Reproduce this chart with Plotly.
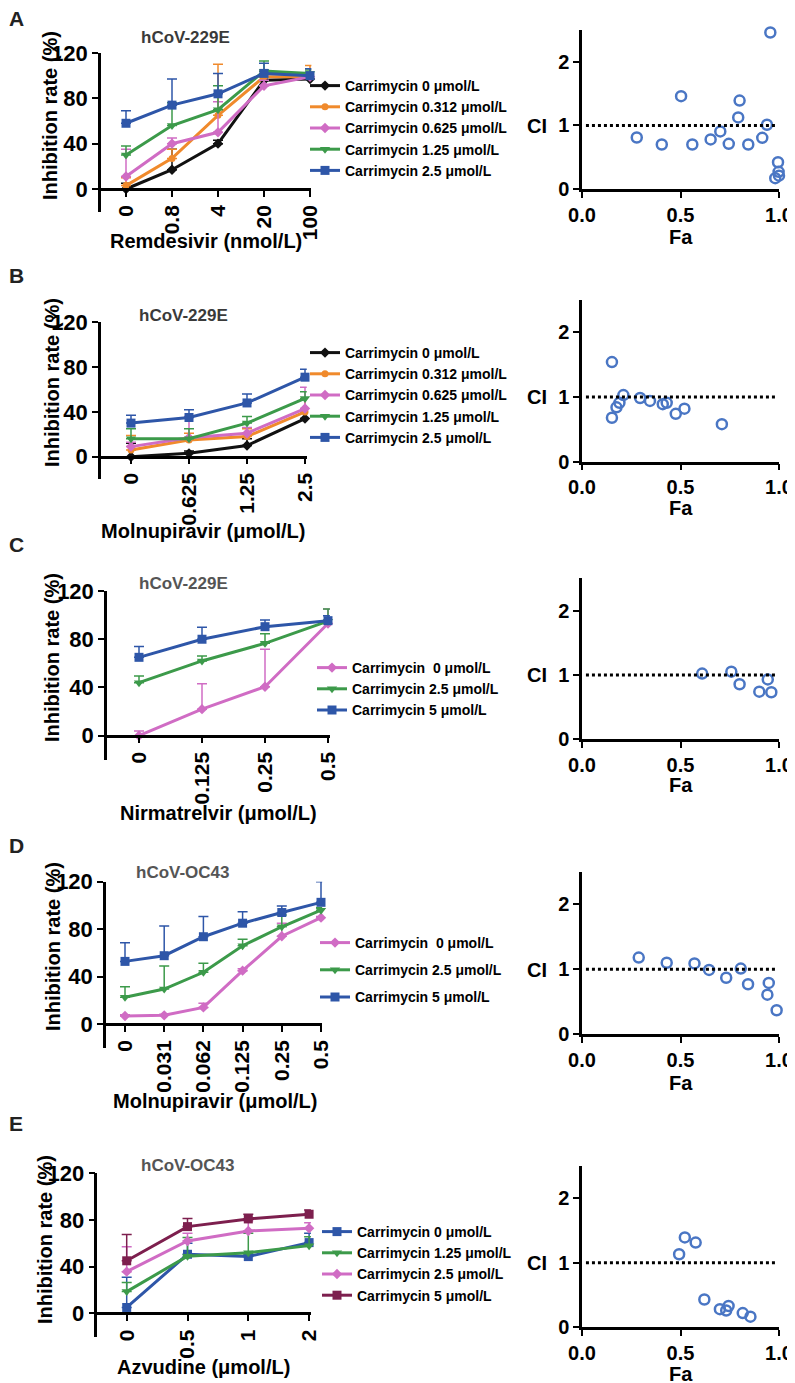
import plotly.graph_objects as go

# the page adds an 8px body margin, so every reference pixel position is
# shifted back by OFF when it is turned into paper coordinates
OFF = 8
W, H = 795, 1383
FONT = "Liberation Sans, Arial, Helvetica, sans-serif"

BLACK = "#111111"
ORANGE = "#F08A2C"
PINK = "#D06CC4"
GREEN = "#3C9A4A"
BLUE = "#2E56A8"
MAROON = "#7D1F4E"
CI_BLUE = "#4A76C4"

# ---- A: Remdesivir + carrimycin (hCoV-229E)
a_dose = ["0", "0.8", "4", "20", "100"]
a_names = ["Carrimycin 0 μmol/L", "Carrimycin 0.312 μmol/L", "Carrimycin 0.625 μmol/L",
           "Carrimycin 1.25 μmol/L", "Carrimycin 2.5 μmol/L"]
a_mean = [[0, 17, 40, 96, 97],
          [3, 27, 65, 99, 99],
          [11, 40, 50, 91, 99],
          [30, 56, 70, 104, 102],
          [58, 74, 84, 102, 100]]
a_sd = [[5, 18, 3, 3, 2],
        [7, 8, 45, 5, 10],
        [24, 5, 27, 5, 3],
        [8, 20, 21, 9, 3],
        [11, 23, 18, 9, 6]]
a_fa = [0.278, 0.405, 0.503, 0.56, 0.653, 0.702, 0.745, 0.793, 0.80, 0.844,
        0.915, 0.939, 0.956, 0.995, 0.998, 1.0, 0.981]
a_ci = [0.81, 0.70, 1.46, 0.70, 0.78, 0.905, 0.71, 1.125, 1.39, 0.70,
        0.805, 1.01, 2.46, 0.42, 0.27, 0.21, 0.17]

# ---- B: Molnupiravir + carrimycin (hCoV-229E)
b_dose = ["0", "0.625", "1.25", "2.5"]
b_names = a_names
b_mean = [[0, 3, 10, 34],
          [6, 15, 18, 40],
          [9, 17, 21, 43],
          [16, 16, 30, 52],
          [30, 35, 48, 71]]
b_sd = [[12, 2, 6, 6],
        [13, 6, 7, 12],
        [4, 19, 5, 19],
        [9, 9, 6, 6],
        [7, 7, 8, 7]]
b_fa = [0.152, 0.152, 0.175, 0.19, 0.21, 0.295, 0.345, 0.41, 0.43, 0.476, 0.52, 0.71]
b_ci = [1.54, 0.68, 0.84, 0.91, 1.03, 0.985, 0.94, 0.89, 0.91, 0.74, 0.82, 0.58]

# ---- C: Nirmatrelvir + carrimycin (hCoV-229E)
c_dose = ["0", "0.125", "0.25", "0.5"]
c_names = ["Carrimycin\u00a0 0 μmol/L", "Carrimycin 2.5 μmol/L", "Carrimycin 5 μmol/L"]
c_mean = [[0, 22, 40.6, 93],
          [44, 62, 76.6, 95],
          [65, 80, 90.4, 95.4]]
c_sd = [[4, 21, 31, 12],
        [5.5, 4, 8, 10],
        [9, 10, 5.5, 4]]
c_fa = [0.61, 0.758, 0.80, 0.90, 0.943, 0.961]
c_ci = [1.02, 1.05, 0.855, 0.74, 0.93, 0.73]

# ---- D: Molnupiravir + carrimycin (hCoV-OC43)
d_dose = ["0", "0.031", "0.062", "0.125", "0.25", "0.5"]
d_names = c_names
d_mean = [[6.7, 7.3, 14, 45, 74, 89.7],
          [22.5, 29.5, 43.6, 66, 82, 96],
          [52.8, 57.6, 73.6, 85, 94, 102.6]]
d_sd = [[1, 1, 3.4, 1.5, 11, 1],
        [9, 19.5, 7.6, 5.4, 10, 2],
        [15.8, 25, 17, 9.7, 5.6, 17.4]]
d_fa = [0.288, 0.43, 0.571, 0.645, 0.732, 0.806, 0.843, 0.948, 0.941, 0.988]
d_ci = [1.18, 1.10, 1.09, 0.99, 0.87, 1.01, 0.77, 0.79, 0.61, 0.37]

# ---- E: Azvudine + carrimycin (hCoV-OC43)
e_dose = ["0", "0.5", "1", "2"]
e_names = ["Carrimycin 0 μmol/L", "Carrimycin 1.25 μmol/L", "Carrimycin 2.5 μmol/L",
           "Carrimycin 5 μmol/L"]
e_mean = [[5, 50.6, 48.6, 60.6],
          [18.6, 49, 52, 58],
          [35.7, 62, 70.6, 72.9],
          [45, 74.3, 80.9, 84.9]]
e_sd = [[26, 9.4, 2, 8],
        [7.7, 16, 16.6, 7.7],
        [21.4, 6.6, 8.8, 4.8],
        [22.6, 7, 4, 3.7]]
e_fa = [0.493, 0.522, 0.577, 0.621, 0.70, 0.732, 0.744, 0.816, 0.855]
e_ci = [1.13, 1.39, 1.31, 0.43, 0.28, 0.26, 0.33, 0.22, 0.165]

ci_ref = 1.0

# styles
five_col = [BLACK, ORANGE, PINK, GREEN, BLUE]
five_sym = ["diamond", "circle", "diamond", "triangle-down", "square"]
three_col = [PINK, GREEN, BLUE]
three_sym = ["diamond", "triangle-down", "square"]
e_col = [BLUE, GREEN, PINK, MAROON]
e_sym = ["square", "triangle-down", "diamond", "square"]
sym_size = {"diamond": 8, "circle": 7, "triangle-down": 9, "square": 9}

# layout geometry in reference pixels
panels = [
    dict(letter="A", virus="hCoV-229E", vcol="#3a3a3a", xtitle="Remdesivir (nmol/L)",
         dose=a_dose, names=a_names, mean=a_mean, sd=a_sd, col=five_col, sym=five_sym,
         fa=a_fa, ci=a_ci,
         ax=101, cat0=126, step=46, top=53, zero=189,
         rtop=30, rzero=189, leg=(305, 70), gap=0,
         let_y=18, vt=(185, 38), xt=(206, 241), yt=(50, 116), ci_y=126, fa_y=237),
    dict(letter="B", virus="hCoV-229E", vcol="#3a3a3a", xtitle="Molnupiravir (μmol/L)",
         dose=b_dose, names=b_names, mean=b_mean, sd=b_sd, col=five_col, sym=five_sym,
         fa=b_fa, ci=b_ci,
         ax=101, cat0=131, step=58, top=322.3, zero=456.7,
         rtop=300, rzero=461.7, leg=(305, 337), gap=0,
         let_y=275, vt=(183, 315), xt=(203, 531), yt=(52, 383), ci_y=397, fa_y=508),
    dict(letter="C", virus="hCoV-229E", vcol="#555555", xtitle="Nirmatrelvir (μmol/L)",
         dose=c_dose, names=c_names, mean=c_mean, sd=c_sd, col=three_col, sym=three_sym,
         fa=c_fa, ci=c_ci,
         ax=107, cat0=139, step=63, top=591, zero=735.7,
         rtop=578.3, rzero=739.3, leg=(312, 652), gap=0,
         let_y=544, vt=(183, 583), xt=(218, 813), yt=(52, 658), ci_y=675, fa_y=785),
    dict(letter="D", virus="hCoV-OC43", vcol="#555555", xtitle="Molnupiravir (μmol/L)",
         dose=d_dose, names=d_names, mean=d_mean, sd=d_sd, col=three_col, sym=three_sym,
         fa=d_fa, ci=d_ci,
         ax=106, cat0=125, step=39.2, top=881.7, zero=1024,
         rtop=871.7, rzero=1034.3, leg=(315, 927), gap=6,
         let_y=845, vt=(183, 872), xt=(215, 1101), yt=(53, 947), ci_y=970, fa_y=1083),
    dict(letter="E", virus="hCoV-OC43", vcol="#555555", xtitle="Azvudine (μmol/L)",
         dose=e_dose, names=e_names, mean=e_mean, sd=e_sd, col=e_col, sym=e_sym,
         fa=e_fa, ci=e_ci,
         ax=97.3, cat0=126.7, step=60.8, top=1173.3, zero=1313.3,
         rtop=1165.7, rzero=1327.3, leg=(317, 1216), gap=0,
         let_y=1123, vt=(188, 1165), xt=(203, 1367), yt=(45, 1240), ci_y=1263, fa_y=1374),
]

RX0, RX1 = 582, 779  # right-hand CI plots


def pxx(p):
    return (p - OFF) / W


def pxy(p):
    return 1 - (p - OFF) / H


def sfx(k):
    return "" if k == 1 else str(k)


axis_common = dict(showline=True, linewidth=2.5, linecolor="black", ticks="outside",
                   ticklen=6, tickwidth=2, tickcolor="black", showgrid=False,
                   zeroline=False, fixedrange=True, automargin=False)

fig = go.Figure()
layout = {}
annotations = []


def note(text, x, y, size=20, color="black", angle=0):
    annotations.append(dict(text=text, x=pxx(x), y=pxy(y), xref="paper",
                            yref="paper", showarrow=False, xanchor="center",
                            yanchor="middle", textangle=angle,
                            font=dict(size=size, color=color)))


for i, p in enumerate(panels):
    ls, rs = sfx(i + 1), sfx(i + 6)
    leg = "legend" + sfx(i + 1)
    n = len(p["dose"])
    pad = 0.03

    for s, name in enumerate(p["names"]):
        c, sy = p["col"][s], p["sym"][s]
        fig.add_trace(go.Scatter(
            x=p["dose"], y=p["mean"][s], name=name, mode="lines+markers",
            line=dict(color=c, width=3),
            marker=dict(symbol=sy, size=sym_size[sy], color=c),
            error_y=dict(type="data", array=p["sd"][s], arrayminus=[0] * n,
                         symmetric=False, color=c, thickness=1.5, width=5),
            xaxis="x" + ls, yaxis="y" + ls, legend=leg, cliponaxis=False,
            legendgroup=(name + p["letter"]) if p["gap"] else None,
        ))

    fig.add_trace(go.Scatter(
        x=p["fa"], y=p["ci"], mode="markers", showlegend=False,
        marker=dict(symbol="circle-open", size=10, color=CI_BLUE,
                    line=dict(width=2.5, color=CI_BLUE)),
        xaxis="x" + rs, yaxis="y" + rs, cliponaxis=False,
    ))
    fig.add_shape(type="line", xref="x" + rs, yref="y" + rs, x0=0.02, x1=0.98,
                  y0=ci_ref, y1=ci_ref, line=dict(color="black", width=3, dash="dot"))

    # left dose-response axes (x axis sits at y = 0, y axis runs down to -20)
    bot = p["zero"] + (p["zero"] - p["top"]) / 6
    layout["xaxis" + ls] = dict(
        axis_common, type="category",
        domain=[pxx(p["ax"]), pxx(p["cat0"] + p["step"] * (n - 1 + pad))],
        range=[-(p["cat0"] - p["ax"]) / p["step"], n - 1 + pad],
        anchor="free", position=pxy(p["zero"]), tickangle=-90,
        tickfont=dict(size=21))
    layout["yaxis" + ls] = dict(
        axis_common, domain=[pxy(bot), pxy(p["top"])], range=[-20, 120],
        tickvals=[0, 40, 80, 120], anchor="x" + ls, tickfont=dict(size=22))

    # right CI vs Fa axes
    layout["xaxis" + rs] = dict(
        axis_common, domain=[pxx(RX0), pxx(RX1)], range=[0, 1],
        tickvals=[0, 0.5, 1], ticktext=["0.0", "0.5", "1.0"], anchor="y" + rs,
        tickfont=dict(size=20))
    layout["yaxis" + rs] = dict(
        axis_common, domain=[pxy(p["rzero"]), pxy(p["rtop"])], range=[0, 2.5],
        tickvals=[0, 1, 2], anchor="x" + rs, tickfont=dict(size=20))

    layout[leg] = dict(x=pxx(p["leg"][0]), y=pxy(p["leg"][1]), xanchor="left",
                       yanchor="top", bgcolor="rgba(0,0,0,0)", borderwidth=0,
                       font=dict(size=14, color="black"), itemwidth=30,
                       tracegroupgap=p["gap"])

    note(p["letter"], 16, p["let_y"], size=21, color="#222222")
    note(p["virus"], p["vt"][0], p["vt"][1], size=17, color=p["vcol"])
    note(p["xtitle"], p["xt"][0], p["xt"][1])
    note("Inhibition rate (%)", p["yt"][0], p["yt"][1], angle=-90)
    note("CI", 537, p["ci_y"])
    note("Fa", 681, p["fa_y"])

fig.update_layout(
    template="none",
    width=W, height=H, margin=dict(l=0, r=0, t=0, b=0, autoexpand=False),
    paper_bgcolor="white", plot_bgcolor="white",
    font=dict(family=FONT, size=20, color="black", weight="bold"),
    annotations=annotations, **layout,
)

fig.write_html("out.html")
